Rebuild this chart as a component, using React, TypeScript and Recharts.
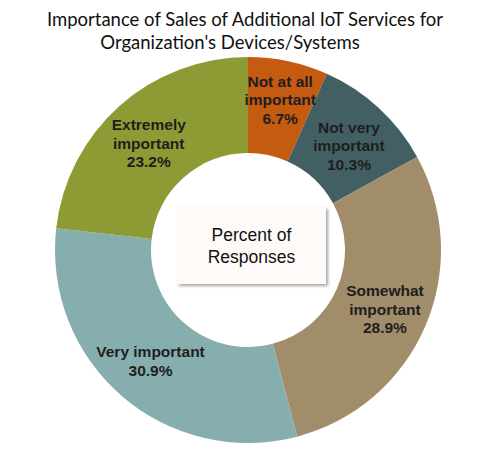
import { PieChart, Pie, Cell } from "recharts";

const categories = [
  "Not at all important",
  "Not very important",
  "Somewhat important",
  "Very important",
  "Extremely important",
];
const labelLines = [
  ["Not at all", "important"],
  ["Not very", "important"],
  ["Somewhat", "important"],
  ["Very important"],
  ["Extremely", "important"],
];
const percents = [6.7, 10.3, 28.9, 30.9, 23.2];
const COLORS = ["#c55a11", "#426064", "#a28d6b", "#87aeae", "#8e9b34"];

const chartData = categories.map((name, i) => ({
  name,
  value: percents[i],
  lines: labelLines[i],
}));

const RAD = Math.PI / 180;
// small vertical nudges so labels sit where the original put them
const LABEL_DY = [0, 5, 0, -2, 4];

function renderLabel(props: any) {
  const { cx, cy, midAngle, index } = props;
  const d = chartData[index];
  const r = index === 0 ? 154 : 149;
  const x = cx + r * Math.cos(-midAngle * RAD);
  const y = cy + r * Math.sin(-midAngle * RAD) + LABEL_DY[index];
  const lines = [...d.lines, `${d.value.toFixed(1)}%`];
  const lh = 18.5;
  const top = y - ((lines.length - 1) * lh) / 2;
  return (
    <text
      x={x}
      y={top}
      textAnchor="middle"
      dominantBaseline="central"
      fill="#1e1e1e"
      fontFamily="'Liberation Sans', Arial, sans-serif"
      fontWeight="bold"
      fontSize={15.5}
    >
      {lines.map((t, i) => (
        <tspan key={i} x={x} y={top + i * lh}>
          {t}
        </tspan>
      ))}
    </text>
  );
}

export default function App() {
  return (
    <div
      style={{
        position: "absolute",
        left: 0,
        top: 0,
        width: 498,
        height: 457,
        background: "#fff",
        overflow: "hidden",
      }}
    >
      <PieChart
        width={498}
        height={457}
        margin={{ top: 0, right: 0, bottom: 0, left: 0 }}
      >
        <Pie
          data={chartData}
          dataKey="value"
          nameKey="name"
          cx={248}
          cy={250}
          innerRadius={97}
          outerRadius={193}
          startAngle={90}
          endAngle={-270}
          stroke="none"
          label={renderLabel}
          labelLine={false}
          isAnimationActive={false}
        >
          {chartData.map((entry, index) => (
            <Cell key={`cell-${index}`} fill={COLORS[index]} />
          ))}
        </Pie>
      </PieChart>
      <div
        style={{
          position: "absolute",
          left: 0,
          top: 8,
          width: 490,
          textAlign: "center",
          fontFamily: "Lato, 'Open Sans', sans-serif",
          fontSize: 18.5,
          lineHeight: "23px",
          color: "#111",
        }}
      >
        Importance of Sales of Additional IoT Services for
        <br />
        <span style={{ position: "relative", left: -15 }}>
          Organization's Devices/Systems
        </span>
      </div>
      <div
        style={{
          position: "absolute",
          left: 177,
          top: 207,
          width: 149,
          height: 77,
          background: "#fdfaf7",
          boxShadow: "2px 2px 3px rgba(0,0,0,0.35)",
          display: "flex",
          alignItems: "center",
          justifyContent: "center",
          textAlign: "center",
          fontFamily: "'Liberation Sans', Arial, sans-serif",
          fontSize: 17.5,
          lineHeight: "22px",
          color: "#111",
        }}
      >
        Percent of
        <br />
        Responses
      </div>
    </div>
  );
}
